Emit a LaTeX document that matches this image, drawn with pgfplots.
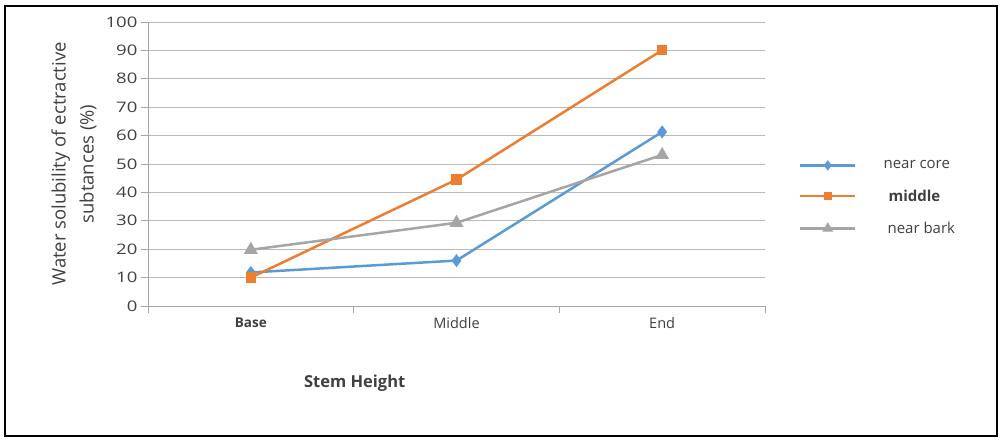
\documentclass[border=0pt]{standalone}
\usepackage{fontspec}
\setmainfont{Open Sans}
\newfontfamily\widefont{Open Sans}[FakeStretch=1.28]
\usepackage{pgfplots}
\pgfplotsset{compat=1.18}
\definecolor{cblue}{HTML}{5B9BD5}
\definecolor{corange}{HTML}{ED7D31}
\definecolor{cgray}{HTML}{A5A5A5}
\definecolor{ctext}{HTML}{404040}
\begin{document}
\begin{tikzpicture}[x=1pt,y=1pt]
\useasboundingbox (0,0) rectangle (1000,439);
\draw[line width=2pt] (5,3) rectangle (997,433);
\begin{axis}[
  at={(148pt,133pt)}, anchor=south west,
  scale only axis, width=617pt, height=284pt,
  xmin=-0.5, xmax=2.5, ymin=0, ymax=100,
  ytick={0,10,...,100},
  xtick={0,1,2},
  xticklabels={\textbf{\fontsize{13.5}{13.5}\selectfont Base},Middle,End},
  minor xtick={-0.5,0.5,1.5,2.5},
  major x tick style={draw=none},
  minor tick length=7pt, major tick length=7pt,
  tick align=outside,
  tick style={draw=gray!70, line width=0.8pt},
  axis x line*=bottom, axis y line*=left,
  axis line style={draw=gray!70, line width=1pt, -},
  ymajorgrids, grid style={draw=gray!55, line width=0.9pt},
  /pgf/number format/assume math mode=true,
  yticklabel style={font=\widefont\fontsize{14.5}{14.5}\selectfont, text=ctext},
  xticklabel style={font=\fontsize{14.5}{14.5}\selectfont, text=ctext, yshift=-1pt},
  ylabel={Water solubility of ectractive\\subtances (\%)},
  ylabel style={at={(axis description cs:-0.12,0.5)}, anchor=center, align=center, font=\fontsize{18.5}{28}\selectfont, text=ctext},
  xlabel={\textbf{Stem Height}},
  xlabel style={at={(axis description cs:0.335,-0.271)}, anchor=center, font=\fontsize{16.5}{16.5}\selectfont, text=ctext},
  legend style={at={(1.05,0.527)}, anchor=north west, draw=none, fill=none,
    font=\fontsize{15}{15}\selectfont, row sep=15.5pt, text=ctext},
  legend cell align=left,
  legend image code/.code={\draw[mark repeat=2,mark phase=2,#1,mark options={scale=0.7}] plot coordinates {(0pt,0pt) (27.5pt,0pt) (55pt,0pt)}; \path (80pt,0pt);},
]
\addplot[color=cblue, line width=2.5pt, mark=diamond*, mark size=4.5pt] coordinates {(0,11.8) (1,16.0) (2,61.3)};
\addlegendentry{near core}
\addplot[color=corange, line width=2.5pt, mark=square*, mark size=4pt] coordinates {(0,10.0) (1,44.5) (2,90.1)};
\addlegendentry{\hspace{5pt}\textbf{middle}}
\addplot[color=cgray, line width=2.5pt, mark=triangle*, mark size=5.5pt] coordinates {(0,19.8) (1,29.3) (2,53.2)};
\addlegendentry{\hspace{4pt}near bark}
\end{axis}
\end{tikzpicture}
\end{document}
